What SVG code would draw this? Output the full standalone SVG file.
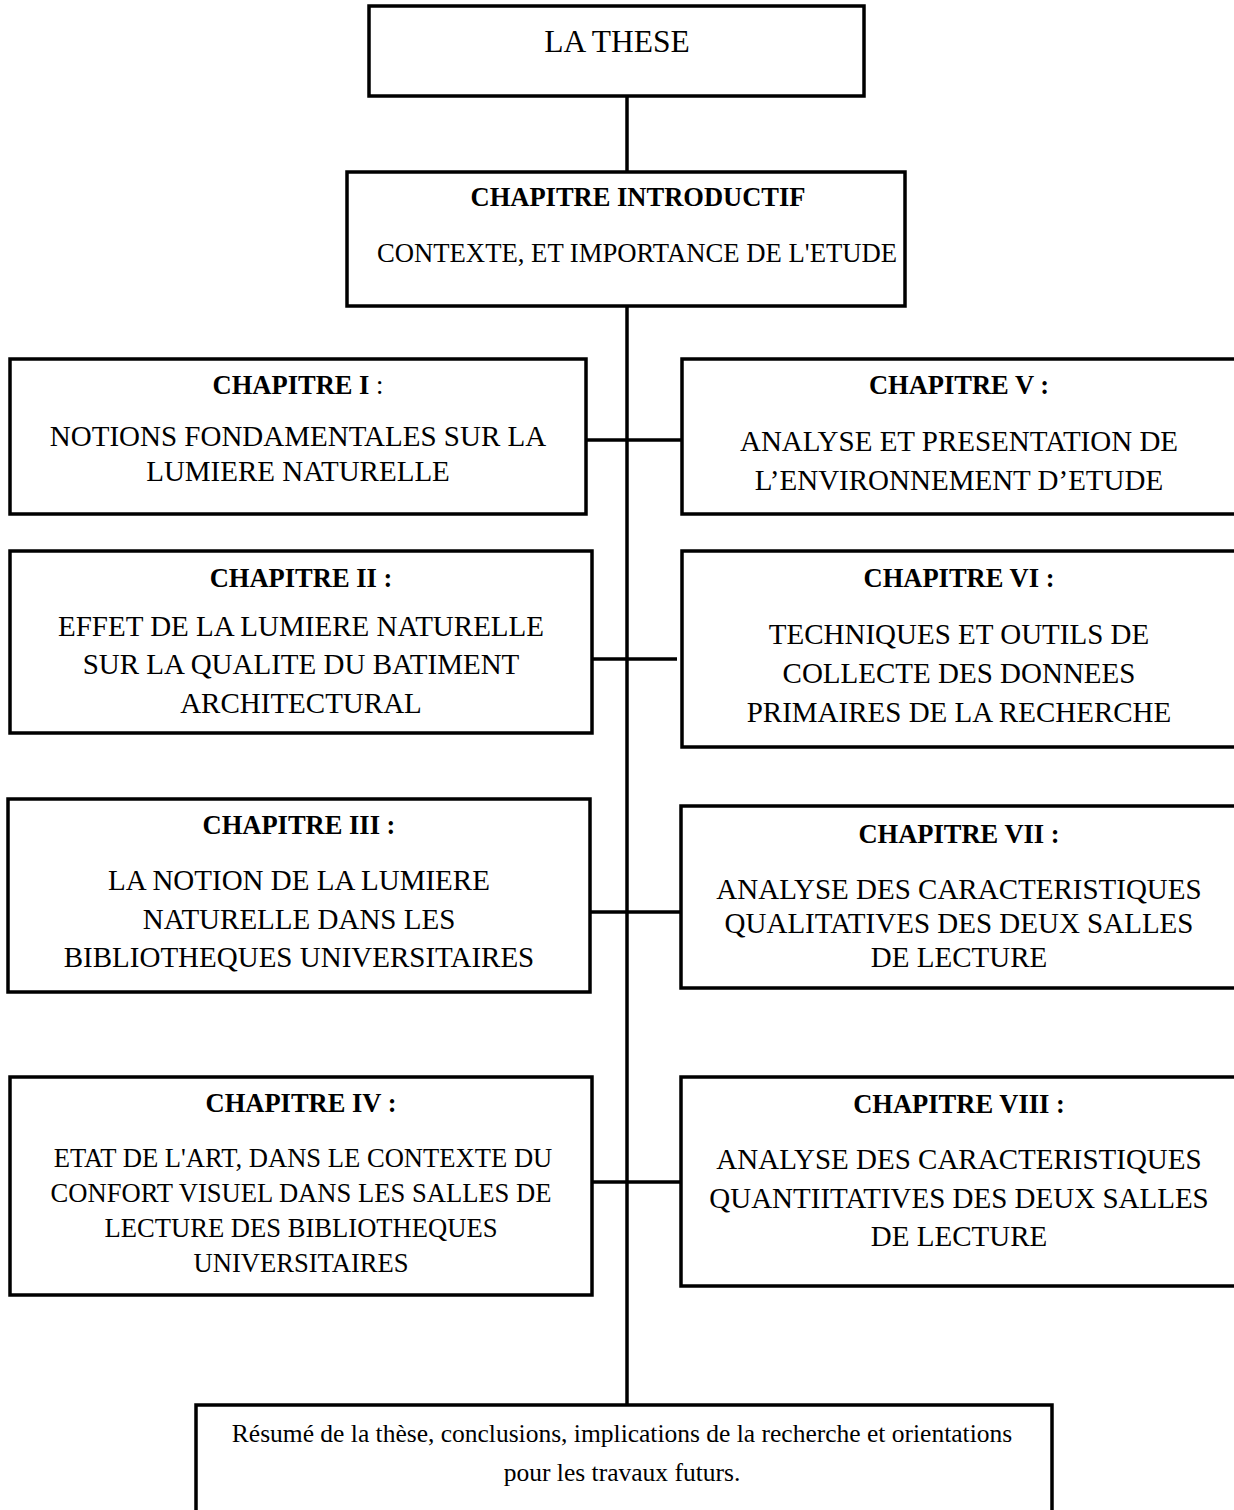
<svg xmlns="http://www.w3.org/2000/svg" width="1234" height="1510" viewBox="0 0 1234 1510">
<style>
.box{fill:#fff;stroke:#000;stroke-width:3.5}
.ln{stroke:#000;stroke-width:3.5;fill:none}
text{font-family:"Liberation Serif","Times New Roman",serif;fill:#000;text-anchor:middle}
.h{font-weight:bold;font-size:26.5px}
.b{font-size:29px}
.b2{font-size:26.6px}
.t{font-size:31.5px}
.i{font-size:26.7px}
.r{font-size:25.5px}
</style>
<rect width="1234" height="1510" fill="#fff"/>
<g id="connectors">
<line class="ln" x1="627" y1="96" x2="627" y2="172"/>
<line class="ln" x1="627" y1="306" x2="627" y2="1405"/>
<line class="ln" x1="586" y1="440" x2="682" y2="440"/>
<line class="ln" x1="592" y1="659" x2="677" y2="659"/>
<line class="ln" x1="586" y1="912" x2="681" y2="912"/>
<line class="ln" x1="592" y1="1182" x2="681" y2="1182"/>
</g>
<g id="these">
<rect class="box" x="369" y="6" width="495" height="90"/>
<text class="t" x="617" y="52">LA THESE</text>
</g>
<g id="intro">
<rect class="box" x="347" y="172" width="558" height="134"/>
<text class="h" x="638" y="206">CHAPITRE INTRODUCTIF</text>
<text class="i" x="637" y="262">CONTEXTE, ET IMPORTANCE DE L'ETUDE</text>
</g>
<g id="ch1">
<rect class="box" x="10" y="359" width="576" height="155"/>
<text class="h" x="298" y="394">CHAPITRE I<tspan font-weight="normal"> :</tspan></text>
<text class="b" x="298" y="446">NOTIONS FONDAMENTALES SUR LA</text>
<text class="b" x="298" y="481">LUMIERE NATURELLE</text>
</g>
<g id="ch2">
<rect class="box" x="10" y="551" width="582" height="182"/>
<text class="h" x="301" y="587">CHAPITRE II :</text>
<text class="b" x="301" y="636">EFFET DE LA LUMIERE NATURELLE</text>
<text class="b" x="301" y="674">SUR LA QUALITE DU BATIMENT</text>
<text class="b" x="301" y="713">ARCHITECTURAL</text>
</g>
<g id="ch3">
<rect class="box" x="8" y="799" width="582" height="193"/>
<text class="h" x="299" y="834">CHAPITRE III :</text>
<text class="b" x="299" y="890">LA NOTION DE LA LUMIERE</text>
<text class="b" x="299" y="929">NATURELLE DANS LES</text>
<text class="b" x="299" y="967">BIBLIOTHEQUES UNIVERSITAIRES</text>
</g>
<g id="ch4">
<rect class="box" x="10" y="1077" width="582" height="218"/>
<text class="h" x="301" y="1112">CHAPITRE IV :</text>
<text class="b2" x="303" y="1167">ETAT DE L'ART, DANS LE CONTEXTE DU</text>
<text class="b2" x="301" y="1202">CONFORT VISUEL DANS LES SALLES DE</text>
<text class="b2" x="301" y="1237">LECTURE DES BIBLIOTHEQUES</text>
<text class="b2" x="301" y="1272">UNIVERSITAIRES</text>
</g>
<g id="ch5">
<rect class="box" x="682" y="359" width="556" height="155"/>
<text class="h" x="959" y="394">CHAPITRE V :</text>
<text class="b" x="959" y="451">ANALYSE ET PRESENTATION DE</text>
<text class="b" x="959" y="490">L’ENVIRONNEMENT D’ETUDE</text>
</g>
<g id="ch6">
<rect class="box" x="682" y="551" width="556" height="196"/>
<text class="h" x="959" y="587">CHAPITRE VI :</text>
<text class="b" x="959" y="644">TECHNIQUES ET OUTILS DE</text>
<text class="b" x="959" y="683">COLLECTE DES DONNEES</text>
<text class="b" x="959" y="722">PRIMAIRES DE LA RECHERCHE</text>
</g>
<g id="ch7">
<rect class="box" x="681" y="806" width="557" height="182"/>
<text class="h" x="959" y="843">CHAPITRE VII :</text>
<text class="b" x="959" y="899">ANALYSE DES CARACTERISTIQUES</text>
<text class="b" x="959" y="933">QUALITATIVES DES DEUX SALLES</text>
<text class="b" x="959" y="967">DE LECTURE</text>
</g>
<g id="ch8">
<rect class="box" x="681" y="1077" width="557" height="209"/>
<text class="h" x="959" y="1113">CHAPITRE VIII :</text>
<text class="b" x="959" y="1169">ANALYSE DES CARACTERISTIQUES</text>
<text class="b" x="959" y="1208">QUANTIITATIVES DES DEUX SALLES</text>
<text class="b" x="959" y="1246">DE LECTURE</text>
</g>
<g id="resume">
<rect class="box" x="196" y="1405" width="856" height="120"/>
<text class="r" x="622" y="1442">Résumé de la thèse, conclusions, implications de la recherche et orientations</text>
<text class="r" x="622" y="1481">pour les travaux futurs.</text>
</g>
</svg>
